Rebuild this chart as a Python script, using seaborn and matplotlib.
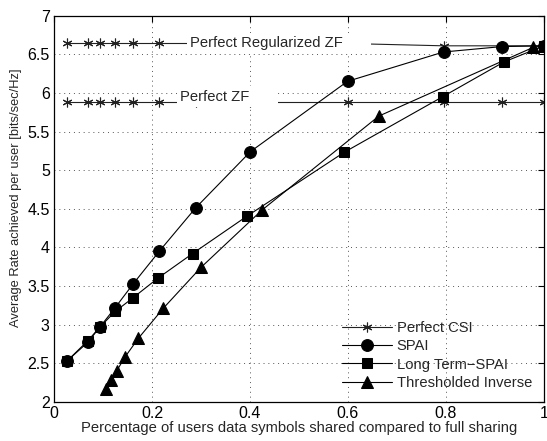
import matplotlib
matplotlib.use('Agg')
import matplotlib.pyplot as plt
import seaborn as sns
import pandas as pd

# data
spai_x = [0.027, 0.069, 0.094, 0.125, 0.162, 0.215, 0.289, 0.401, 0.599, 0.795, 0.914, 1.0]
spai_y = [2.53, 2.77, 2.97, 3.22, 3.53, 3.95, 4.51, 5.24, 6.15, 6.53, 6.60, 6.61]

lt_x = [0.027, 0.069, 0.094, 0.125, 0.162, 0.212, 0.283, 0.393, 0.592, 0.793, 0.918, 1.0]
lt_y = [2.53, 2.79, 2.97, 3.17, 3.35, 3.60, 3.92, 4.40, 5.23, 5.95, 6.40, 6.61]

thr_x = [0.107, 0.116, 0.128, 0.145, 0.172, 0.223, 0.300, 0.424, 0.663, 0.978, 1.0]
thr_y = [2.17, 2.28, 2.40, 2.58, 2.82, 3.21, 3.74, 4.48, 5.70, 6.59, 6.61]

regzf_y = [6.64, 6.64, 6.64, 6.64, 6.64, 6.64, 6.64, 6.64, 6.64, 6.61, 6.61, 6.61]
zf_y = [5.88] * 12

sns.set_style('white')
plt.rcParams['font.family'] = ['Liberation Sans', 'DejaVu Sans']

fig = plt.figure(figsize=(5.47, 4.41), dpi=100)
ax = fig.add_axes([0.0987, 0.089, 0.8958, 0.8754])

lw = 0.8
star = (6, 2, 0)
handles = []

sns.lineplot(x=spai_x, y=regzf_y, ax=ax, color='#222222', lw=lw, marker=star,
             markersize=7, markeredgewidth=0.8, markeredgecolor='#222222', sort=False, legend=False)
handles.append(ax.lines[-1])
sns.lineplot(x=spai_x, y=zf_y, ax=ax, color='#222222', lw=lw, marker=star,
             markersize=7, markeredgewidth=0.8, markeredgecolor='#222222', sort=False, legend=False)

sns.lineplot(x=spai_x, y=spai_y, ax=ax, color='black', lw=lw, marker='o',
             markersize=8.5, markeredgecolor='black', sort=False, legend=False)
handles.append(ax.lines[-1])
sns.lineplot(x=lt_x, y=lt_y, ax=ax, color='black', lw=lw, marker='s',
             markersize=6.5, markeredgecolor='black', sort=False, legend=False)
handles.append(ax.lines[-1])
sns.lineplot(x=thr_x, y=thr_y, ax=ax, color='black', lw=lw, marker='^',
             markersize=8.5, markeredgecolor='black', sort=False, legend=False)
handles.append(ax.lines[-1])

# labels on the Perfect CSI lines (white box hides the line underneath)
ax.text(0.278, 6.645, 'Perfect Regularized ZF      ', fontsize=10.6, va='center', ha='left',
        bbox=dict(facecolor='white', edgecolor='none', pad=2.5), zorder=5)
ax.text(0.258, 5.95, 'Perfect ZF      ', fontsize=10.6, va='center', ha='left',
        bbox=dict(facecolor='white', edgecolor='none', pad=2.5), zorder=5)

ax.set_xlim(0, 1)
ax.set_ylim(2, 7)
ax.set_xticks([0, 0.2, 0.4, 0.6, 0.8, 1])
ax.set_xticklabels(['0', '0.2', '0.4', '0.6', '0.8', '1'])
ax.set_yticks([2, 2.5, 3, 3.5, 4, 4.5, 5, 5.5, 6, 6.5, 7])
ax.set_yticklabels(['2', '2.5', '3', '3.5', '4', '4.5', '5', '5.5', '6', '6.5', '7'])
ax.tick_params(direction='in', length=4, width=0.8, top=True, right=True,
               labelsize=11.5, colors='black', pad=3)
ax.grid(True, linestyle=(0, (1, 4)), color='#555555', linewidth=0.7)
for s in ax.spines.values():
    s.set_color('black')
    s.set_linewidth(0.9)

ax.set_xlabel('Percentage of users data symbols shared compared to full sharing', fontsize=10.6, labelpad=0)
ax.set_ylabel('Average Rate achieved per user [bits/sec/Hz]', fontsize=9.3, labelpad=4)
ax.yaxis.set_label_coords(-0.066, 0.528)

ax.legend(handles, ['Perfect CSI', 'SPAI', 'Long Term\u2212SPAI', 'Thresholded Inverse'],
          loc='lower right', frameon=False, fontsize=10.6, handlelength=3.4,
          labelspacing=0.3, handletextpad=0.3, borderaxespad=0.4)

fig.savefig('out.png', dpi=100)
